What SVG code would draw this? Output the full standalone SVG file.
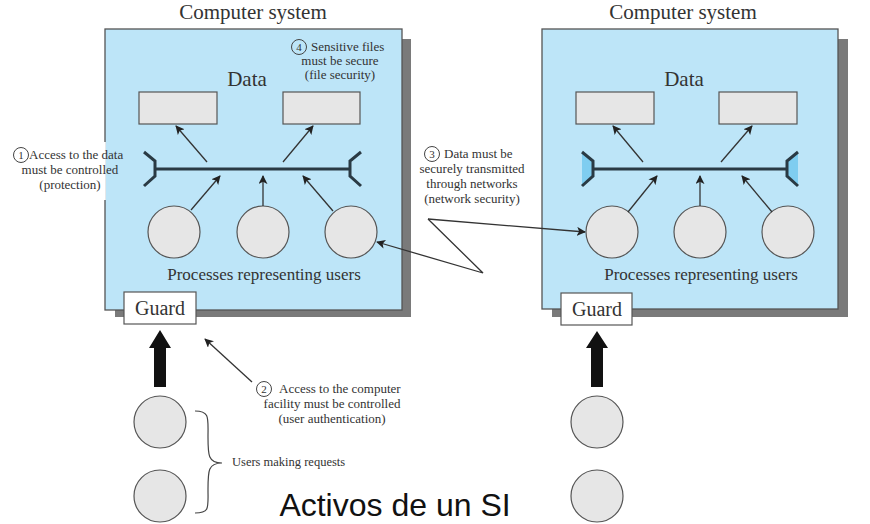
<svg xmlns="http://www.w3.org/2000/svg" width="870" height="524" viewBox="0 0 870 524">
<style>
.serif{font-family:"Liberation Serif","Times New Roman",serif;fill:#333}
.title{font-size:21px;text-anchor:middle}
.data{font-size:21px;text-anchor:middle}
.proc{font-size:17px;text-anchor:middle}
.guard{font-size:20px;text-anchor:middle}
.note{font-size:13px;text-anchor:middle}
.box{fill:#bde5f8;stroke:#555;stroke-width:1.3}
.shadow{fill:#7a7a7a}
.drect{fill:#e6e6e6;stroke:#555;stroke-width:1.2}
.circ{fill:#e6e6e6;stroke:#555;stroke-width:1.2}
.bus{stroke:#2a3a44;stroke-width:3;fill:none}
.brk{stroke:#2a3a44;stroke-width:3;fill:none;stroke-linejoin:miter}
.arr{stroke:#333;stroke-width:1.3;fill:none;marker-end:url(#ah)}
.num{fill:none;stroke:#444;stroke-width:1}
</style>
<defs>
<marker id="ah" viewBox="0 0 10 10" refX="9" refY="5" markerWidth="9" markerHeight="9" markerUnits="userSpaceOnUse" orient="auto">
<path d="M0,0 L10,5 L0,10 L2.5,5 Z" fill="#222"/>
</marker>
</defs>
<rect width="870" height="524" fill="#fff"/>

<g id="system-left">
<rect class="shadow" x="115" y="39" width="296" height="278"/>
<rect class="box" x="105" y="29" width="297" height="281"/>
<text class="serif title" x="253" y="19">Computer system</text>
<text class="serif data" x="247" y="86">Data</text>
<rect class="drect" x="139" y="92" width="78" height="32"/>
<rect class="drect" x="283" y="92" width="77" height="32"/>
<path class="brk" d="M144,152 L155,161 L155,176 L144,186"/>
<path class="brk" d="M361,152 L350,161 L350,176 L361,186"/>
<line class="bus" x1="155" y1="169" x2="350" y2="169"/>
<circle class="circ" cx="174" cy="232" r="26"/>
<circle class="circ" cx="263" cy="232" r="26"/>
<circle class="circ" cx="351" cy="232" r="26"/>
<text class="serif proc" x="264" y="280">Processes representing users</text>
</g>

<g id="system-right">
<rect class="shadow" x="552" y="39" width="296" height="278"/>
<rect class="box" x="542" y="29" width="296" height="280"/>
<text class="serif title" x="683" y="19">Computer system</text>
<text class="serif data" x="684" y="86">Data</text>
<rect class="drect" x="576" y="92" width="78" height="32"/>
<rect class="drect" x="719" y="92" width="78" height="32"/>
<polygon points="582,152 593,161 593,176 582,186" fill="#7fcdf0"/>
<polygon points="798,152 787,161 787,176 798,186" fill="#7fcdf0"/>
<path class="brk" d="M582,152 L593,161 L593,176 L582,186"/>
<path class="brk" d="M798,152 L787,161 L787,176 L798,186"/>
<line class="bus" x1="593" y1="169" x2="787" y2="169"/>
<circle class="circ" cx="612" cy="232" r="26"/>
<circle class="circ" cx="700" cy="232" r="26"/>
<circle class="circ" cx="788" cy="232" r="26"/>
<text class="serif proc" x="701" y="280">Processes representing users</text>
</g>

<g id="note1">
<rect x="0" y="142" width="105.8" height="58" fill="#fff"/>
<circle class="num" cx="21" cy="155" r="7.5"/>
<text class="serif" x="21" y="159" font-size="11" text-anchor="middle">1</text>
<text class="serif" x="29" y="159" font-size="13">Access to the data</text>
<text class="serif note" x="70" y="174">must be controlled</text>
<text class="serif note" x="70" y="189">(protection)</text>
</g>

<g id="note4">
<circle class="num" cx="299" cy="47" r="7.5"/>
<text class="serif" x="299" y="51" font-size="11" text-anchor="middle">4</text>
<text class="serif" x="311" y="51" font-size="13">Sensitive files</text>
<text class="serif note" x="340" y="65">must be secure</text>
<text class="serif note" x="340" y="79">(file security)</text>
</g>

<g id="note3">
<circle class="num" cx="432" cy="154" r="7.5"/>
<text class="serif" x="432" y="158" font-size="11" text-anchor="middle">3</text>
<text class="serif" x="444" y="158" font-size="13">Data must be</text>
<text class="serif note" x="472" y="173">securely transmitted</text>
<text class="serif note" x="472" y="188">through networks</text>
<text class="serif note" x="472" y="203">(network security)</text>
</g>

<g id="note2">
<circle class="num" cx="264" cy="389" r="7.5"/>
<text class="serif" x="264" y="393" font-size="11" text-anchor="middle">2</text>
<text class="serif" x="279" y="393" font-size="13">Access to the computer</text>
<text class="serif note" x="332" y="408">facility must be controlled</text>
<text class="serif note" x="332" y="423">(user authentication)</text>
</g>

<g id="guard-left">
<rect x="124" y="292" width="72" height="32" fill="#fff" stroke="#555" stroke-width="1.2"/>
<text class="serif guard" x="160" y="315">Guard</text>
</g>
<g id="guard-right">
<rect x="561" y="293" width="71" height="32" fill="#fff" stroke="#555" stroke-width="1.2"/>
<text class="serif guard" x="597" y="316">Guard</text>
</g>

<g id="users-left">
<circle class="circ" cx="160" cy="422" r="26"/>
<circle class="circ" cx="160" cy="496" r="26"/>
<path d="M195,411 C210,411 208,418 208,437 C208,455 208,463 222,463 C208,463 208,471 208,489 C208,508 210,513 195,513" fill="none" stroke="#444" stroke-width="1.2"/>
<text class="serif" x="232" y="466" font-size="12.5">Users making requests</text>
</g>
<g id="users-right">
<circle class="circ" cx="597" cy="422" r="26"/>
<circle class="circ" cx="597" cy="496" r="26"/>
</g>

<g id="connectors">
<line class="arr" x1="207" y1="162" x2="176" y2="126"/>
<line class="arr" x1="283" y1="162" x2="313" y2="126"/>
<line class="arr" x1="191" y1="210" x2="220" y2="176"/>
<line class="arr" x1="263" y1="206" x2="263" y2="176"/>
<line class="arr" x1="333" y1="211" x2="303" y2="176"/>
<line class="arr" x1="643" y1="162" x2="613" y2="126"/>
<line class="arr" x1="721" y1="162" x2="752" y2="126"/>
<line class="arr" x1="628" y1="212" x2="657" y2="176"/>
<line class="arr" x1="700" y1="206" x2="700" y2="176"/>
<line class="arr" x1="772" y1="212" x2="742" y2="176"/>
<polyline class="arr" points="428,219 483,273 377,242"/>
<line class="arr" x1="428" y1="219" x2="585" y2="232"/>
<line class="arr" x1="252" y1="382" x2="205" y2="339"/>
<polygon points="160,330 171,348 166,348 166,387 154,387 154,348 149,348" fill="#111"/>
<polygon points="597,331 608,348 603,348 603,387 591,387 591,348 586,348" fill="#111"/>
</g>

<text x="395" y="516" font-family="Liberation Sans, Arial, sans-serif" font-size="32" text-anchor="middle" fill="#111">Activos de un SI</text>
</svg>
